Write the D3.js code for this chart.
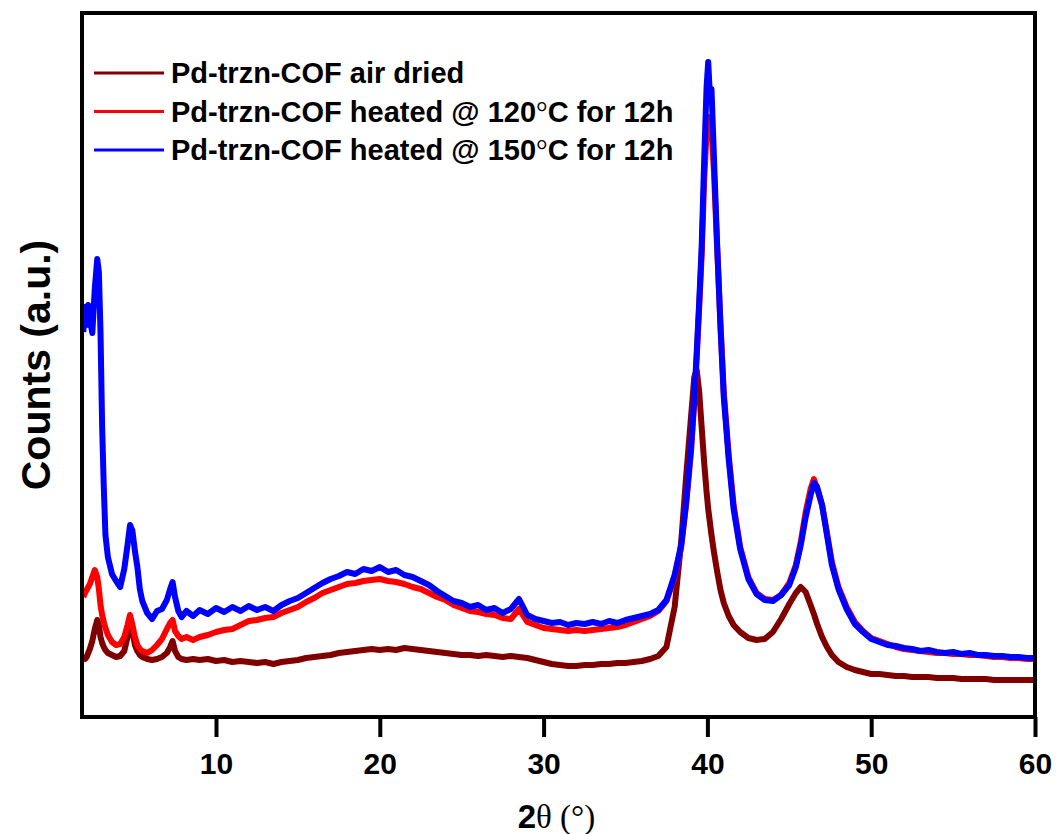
<!DOCTYPE html>
<html>
<head>
<meta charset="utf-8">
<script src="https://cdn.jsdelivr.net/npm/d3@7/dist/d3.min.js"></script>
<style>
  html, body { margin: 0; padding: 0; background: #fff; }
  svg { display: block; }
</style>
</head>
<body>
<div id="chart"></div>
<script>
// -------------------- DATA --------------------
const twoTheta = [
  1.9, 2.0, 2.1, 2.2, 2.3, 2.45, 2.6, 2.75, 2.85, 2.95, 3.05, 3.15, 3.25, 3.4, 3.65, 3.9, 4.15, 4.4, 4.6, 4.75,
  4.9, 5.05, 5.2, 5.35, 5.5, 5.8, 6.1, 6.4, 6.7, 7.0, 7.2, 7.35, 7.5, 7.7, 7.9, 8.2, 8.6, 9.0, 9.5,
  10, 10.5, 11, 11.5, 12, 12.5, 13, 13.5, 14, 14.5, 15, 15.5, 16, 16.5, 17, 17.5, 18, 18.5, 19, 19.5,
  20, 20.5, 21, 21.5, 22, 22.5, 23, 23.5, 24, 24.5, 25, 25.5, 26, 26.5, 27, 27.5, 28, 28.5, 29, 29.5,
  30, 30.5, 31, 31.5, 32, 32.5, 33, 33.5, 34, 34.5, 35, 35.5, 36, 36.5, 37,
  37.5, 38.0, 38.4, 38.7, 39.0, 39.2, 39.35, 39.5, 39.65, 39.8, 39.95, 40.05, 40.15, 40.25, 40.4, 40.6, 40.8,
  41.0, 41.3, 41.6, 42.0, 42.5, 43.0, 43.5, 44.0, 44.5, 45.0, 45.4, 45.7, 46.0, 46.3, 46.5, 46.7, 47.0, 47.3,
  47.6, 48.0, 48.5, 49.0, 49.5,
  50, 50.5, 51, 51.5, 52, 52.5, 53, 53.5, 54, 54.5, 55, 55.5, 56, 56.5, 57, 57.5, 58, 58.5, 59, 59.5, 60
];

const airDried = [
  57, 58, 60, 64, 68, 76, 88, 97, 92, 80, 74, 70, 67, 64, 62, 60, 61, 66, 80, 97,
  85, 72, 66, 62, 60, 58, 57, 58, 60, 64, 70, 76, 66, 60, 58, 57, 58, 57, 58,
  56, 57, 55, 56, 55, 54, 55, 53, 55, 56, 57, 59, 60, 61, 62, 64, 65, 66, 67, 68,
  67, 68, 67, 69, 68, 67, 66, 65, 64, 63, 62, 62, 61, 62, 61, 60, 61, 60, 59, 57,
  55, 53, 52, 51, 51, 52, 52, 53, 53, 54, 54, 55, 56, 58, 61,
  70, 110, 175, 240, 300, 340, 347, 325, 290, 255, 225, 208, 195, 182, 165, 145, 127,
  114, 101, 92, 85, 79, 77, 78, 85, 98, 113, 124, 130, 125, 112, 103, 93, 80, 70,
  62, 55, 50, 47, 45,
  43, 43, 42, 41, 41, 40, 40, 40, 39, 39, 39, 38, 38, 38, 38, 37, 37, 37, 37, 37, 37
];

const heated120 = [
  120, 124, 127, 130, 133, 140, 147, 140, 128, 112, 102, 95, 89, 82, 75, 72, 73, 80, 92, 102,
  92, 80, 72, 68, 66, 64, 67, 72, 78, 88, 94, 97, 86, 81, 78, 80, 77, 80, 82,
  85, 87, 88, 92, 96, 97, 99, 100, 104, 107, 110, 115, 119, 124, 127, 130, 133, 134, 136, 137,
  138, 136, 135, 133, 130, 128, 124, 120, 117, 112, 109, 106, 105, 103, 102, 99, 98, 108, 95, 92,
  89, 88, 87, 86, 87, 86, 87, 88, 89, 90, 92, 95, 98, 101, 106,
  116, 140, 170, 212, 265, 315, 360, 410, 462, 535, 585, 600, 598, 590, 545, 468, 392,
  325, 262, 212, 170, 140, 124, 118, 117, 122, 134, 152, 175, 205, 228, 238, 228, 212, 184,
  155, 130, 110, 95, 86,
  79, 76, 73, 70, 68, 67, 66, 65, 64, 64, 63, 63, 62, 62, 61, 60, 60, 59, 59, 58, 58
];

const heated150 = [
  385, 410, 392, 412, 398, 384, 428, 458, 445, 385, 290, 230, 182, 160, 143, 136, 130, 148, 172, 192,
  186, 166, 150, 128, 116, 104, 98, 106, 108, 117, 128, 135, 120, 106, 100, 106, 101, 107, 103,
  109, 105, 110, 106, 111, 107, 110, 106, 112, 116, 119, 124, 129, 134, 138, 141, 145, 143, 148, 146,
  150, 145, 147, 142, 140, 136, 132, 126, 121, 116, 114, 110, 112, 107, 109, 104, 108, 118, 102, 98,
  96, 94, 95, 92, 94, 93, 95, 93, 96, 94, 97, 99, 101, 103, 107,
  117, 142, 172, 215, 270, 320, 365, 415, 470, 555, 630, 655, 622, 628, 560, 470, 390,
  320, 258, 208, 168, 138, 123, 117, 116, 122, 132, 150, 172, 200, 222, 234, 230, 212, 182,
  152, 128, 108, 93, 85,
  78, 75, 72, 71, 69, 68, 66, 67, 65, 64, 65, 63, 64, 62, 62, 61, 61, 60, 60, 59, 59
];

const seriesNames = [
  ["Pd-trzn-COF air dried", "", ""],
  ["Pd-trzn-COF heated @ 120", "\u00B0", "C for 12h"],
  ["Pd-trzn-COF heated @ 150", "\u00B0", "C for 12h"]
];
const seriesColors = ["#800000", "#ff0000", "#0000ff"];
const xTicks = [10, 20, 30, 40, 50, 60];

// -------------------- LAYOUT --------------------
const W = 1057, H = 834;
const margin = { top: 13, right: 22, bottom: 117, left: 82 };
const width = W - margin.left - margin.right;
const height = H - margin.top - margin.bottom;

const svg = d3.select("#chart")
  .append("svg")
  .attr("width", W)
  .attr("height", H)
  .style("font-family", "'Liberation Sans', Arial, sans-serif");

const g = svg.append("g")
  .attr("transform", `translate(${margin.left},${margin.top})`);

// -------------------- SCALES --------------------
const x = d3.scaleLinear().domain([1.82, 60]).range([0, width]);
const y = d3.scaleLinear().domain([0, 704]).range([height, 0]);

// -------------------- LINES --------------------
const allSeries = [airDried, heated120, heated150];

g.append("defs").append("clipPath").attr("id", "plot-clip")
  .append("rect").attr("width", width).attr("height", height);

const line = d3.line()
  .x(d => x(d[0]))
  .y(d => y(d[1]));

allSeries.forEach((vals, i) => {
  g.append("path")
    .datum(twoTheta.map((t, k) => [t, vals[k]]))
    .attr("clip-path", "url(#plot-clip)")
    .attr("fill", "none")
    .attr("stroke", seriesColors[i])
    .attr("stroke-width", 6)
    .attr("stroke-linejoin", "round")
    .attr("d", line);
});

// -------------------- AXES / FRAME --------------------
g.append("rect")
  .attr("width", width)
  .attr("height", height)
  .attr("fill", "none")
  .attr("stroke", "#000")
  .attr("stroke-width", 4);

const xAxis = g.append("g")
  .attr("transform", `translate(0,${height})`)
  .call(d3.axisBottom(x).tickValues(xTicks).tickSize(20).tickPadding(16));
xAxis.select(".domain").remove();
xAxis.selectAll(".tick line").attr("stroke", "#000").attr("stroke-width", 4);
xAxis.selectAll(".tick text")
  .attr("fill", "#000")
  .style("font-family", "'Liberation Sans', Arial, sans-serif")
  .style("font-size", "30px")
  .style("font-weight", "bold");

// x label: 2θ (°)
const xl = svg.append("text")
  .attr("x", margin.left + width / 2 - 2)
  .attr("y", 828)
  .attr("text-anchor", "middle")
  .style("font-size", "33px");
xl.append("tspan").style("font-weight", "bold").text("2");
xl.append("tspan").style("font-family", "'Liberation Serif', 'Times New Roman', serif").text("\u03B8 (\u00B0)");

// y label
svg.append("text")
  .attr("transform", `translate(50,${365}) rotate(-90)`)
  .attr("text-anchor", "middle")
  .style("font-size", "41px")
  .style("font-weight", "bold")
  .text("Counts (a.u.)");

// -------------------- LEGEND --------------------
const legend = svg.append("g").attr("transform", "translate(94,73)");
seriesNames.forEach((parts, i) => {
  const row = legend.append("g").attr("transform", `translate(0,${i * 38.5})`);
  row.append("line")
    .attr("x1", 0).attr("x2", 70)
    .attr("stroke", seriesColors[i])
    .attr("stroke-width", 3);
  const t = row.append("text")
    .attr("x", 77)
    .attr("dy", "0.35em")
    .style("font-size", "29px")
    .style("font-weight", "bold");
  t.append("tspan").text(parts[0]);
  if (parts[1]) {
    t.append("tspan")
      .style("font-family", "'Liberation Serif', 'Times New Roman', serif")
      .style("font-weight", "normal")
      .text(parts[1]);
    t.append("tspan").text(parts[2]);
  }
});
</script>
</body>
</html>
